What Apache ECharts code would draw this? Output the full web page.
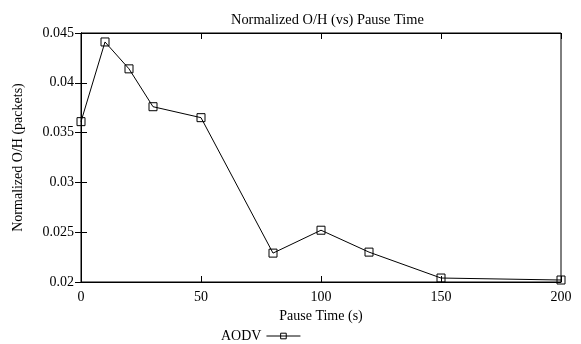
<!DOCTYPE html>
<html>
<head>
<meta charset="utf-8">
<script src="https://cdn.jsdelivr.net/npm/echarts@6/dist/echarts.min.js"></script>
<style>html,body{margin:0;padding:0;background:#fff}#c{width:581px;height:344px}</style>
</head>
<body>
<div id="c"></div>
<script>
const pauseTimes = [0, 10, 20, 30, 50, 80, 100, 120, 150, 200];
const aodvOverhead = [0.0361, 0.0441, 0.0414, 0.0376, 0.0365, 0.0229, 0.0252, 0.0230, 0.0204, 0.0202];
const xTickLabels = ['0', '50', '100', '150', '200'];
const yTickLabels = ['0.02', '0.025', '0.03', '0.035', '0.04', '0.045'];
const seriesName = 'AODV';

const font = 'Liberation Serif';
const chart = echarts.init(document.getElementById('c'), null, {renderer: 'canvas'});
const yLabel = v => {
  const idx = Math.round((v - 0.02) / 0.005);
  return yTickLabels[idx] !== undefined ? yTickLabels[idx] : '';
};
const xLabel = v => {
  const idx = Math.round(v / 50);
  return xTickLabels[idx] !== undefined ? xTickLabels[idx] : '';
};
const axisLine = {show: true, lineStyle: {color: '#000', width: 1}};
const tick = {show: true, inside: true, length: 6, lineStyle: {color: '#000', width: 1}};
chart.setOption({
  animation: false,
  backgroundColor: '#fff',
  title: {
    text: 'Normalized O/H (vs) Pause Time',
    left: 226,
    top: 8,
    textStyle: {fontFamily: font, fontSize: 14.4, fontWeight: 'normal', color: '#000'}
  },
  grid: {left: 81, right: 20, top: 33, bottom: 62, show: true, borderColor: '#000', borderWidth: 1, containLabel: false},
  legend: {
    left: 216, top: 324,
    align: 'right',
    itemWidth: 34, itemHeight: 7, itemGap: 6,
    textStyle: {fontFamily: font, fontSize: 14, color: '#000'},
    lineStyle: {width: 1, color: '#000'},
    itemStyle: {color: 'rgba(255,255,255,0)', borderColor: '#000', borderWidth: 1},
    data: [{name: seriesName}]
  },
  xAxis: [{
    type: 'value', min: 0, max: 200, interval: 50,
    name: 'Pause Time (s)', nameLocation: 'middle', nameGap: 21,
    nameTextStyle: {fontFamily: font, fontSize: 14, color: '#000'},
    axisLine, axisTick: tick,
    axisLabel: {fontFamily: font, fontSize: 14, color: '#000', margin: 8, formatter: xLabel},
    splitLine: {show: false}
  }, {
    type: 'value', min: 0, max: 200, interval: 50, position: 'top',
    axisLine, axisTick: tick, axisLabel: {show: false}, splitLine: {show: false}
  }],
  yAxis: [{
    type: 'value', min: 0.02, max: 0.045, interval: 0.005,
    name: 'Normalized O/H (packets)', nameLocation: 'middle', nameGap: 56,
    nameTextStyle: {fontFamily: font, fontSize: 14, color: '#000'},
    axisLine, axisTick: tick,
    axisLabel: {fontFamily: font, fontSize: 14, color: '#000', margin: 7, formatter: yLabel},
    splitLine: {show: false}
  }, {
    type: 'value', min: 0.02, max: 0.045, interval: 0.005, position: 'right',
    axisLine, axisTick: tick, axisLabel: {show: false}, splitLine: {show: false}
  }],
  series: [{
    name: seriesName,
    type: 'line',
    data: pauseTimes.map((x, i) => [x, aodvOverhead[i]]),
    symbol: 'rect', symbolSize: 8, showAllSymbol: true,
    lineStyle: {color: '#000', width: 1},
    itemStyle: {color: 'rgba(255,255,255,0)', borderColor: '#000', borderWidth: 1},
    color: '#000'
  }]
});
</script>
</body>
</html>
